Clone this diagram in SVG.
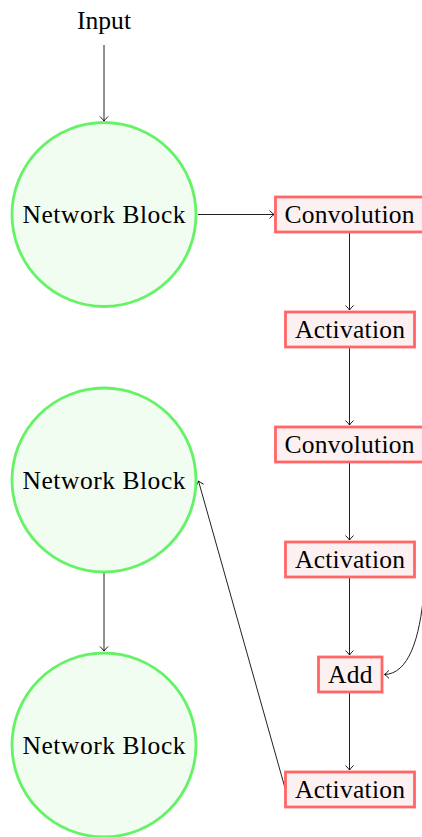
<svg xmlns="http://www.w3.org/2000/svg" width="422" height="837" viewBox="0 0 422 837">
  <defs>
    <marker id="arr" viewBox="-6 -5 8 10" markerWidth="8" markerHeight="10" refX="0" refY="0" orient="auto" markerUnits="userSpaceOnUse">
      <path d="M-4.5,-4 Q-1.5,-1 0,0 Q-1.5,1 -4.5,4" fill="none" stroke="#000" stroke-width="0.9"/>
    </marker>
    <style>
      .block circle { fill: #f2fdf2; stroke: #66f266; stroke-width: 2.8; }
      .op rect { fill: #fdf0f0; stroke: #ff6666; stroke-width: 2.8; }
      text { font-family: "Liberation Serif", "Times New Roman", serif; font-size: 25.5px; fill: #000; text-anchor: middle; }
      .edge { fill: none; stroke: #222; stroke-width: 1; marker-end: url(#arr); }
    </style>
  </defs>

  <rect width="422" height="837" fill="#fff"/>

  <!-- connectors -->
  <g id="connectors">
    <path class="edge" d="M104,45 V121"/>
    <path class="edge" d="M198,214.5 H274"/>
    <path class="edge" d="M349.5,233 V310"/>
    <path class="edge" d="M349.5,348 V425"/>
    <path class="edge" d="M349.5,463 V540"/>
    <path class="edge" d="M349.5,578 V655"/>
    <path class="edge" d="M349.5,693 V770"/>
    <path class="edge" d="M424,590 C420,640 408,674 384.5,674.5"/>
    <path class="edge" d="M285,788 L198.5,481"/>
    <path class="edge" d="M104,573 V651"/>
  </g>

  <!-- input label -->
  <g id="input">
    <text x="104" y="29" textLength="54" lengthAdjust="spacingAndGlyphs">Input</text>
  </g>

  <!-- network blocks -->
  <g id="block1" class="block">
    <circle cx="104" cy="214.5" r="92"/>
    <text x="104" y="223" textLength="163">Network Block</text>
  </g>
  <g id="block2" class="block">
    <circle cx="104" cy="480" r="92"/>
    <text x="104" y="488.5" textLength="163">Network Block</text>
  </g>
  <g id="block3" class="block">
    <circle cx="104" cy="745" r="92"/>
    <text x="104" y="753.5" textLength="163">Network Block</text>
  </g>

  <!-- operations -->
  <g id="conv1" class="op">
    <rect x="275.5" y="197" width="148" height="35"/>
    <text x="349.5" y="223" textLength="130">Convolution</text>
  </g>
  <g id="act1" class="op">
    <rect x="285.5" y="312" width="129" height="35"/>
    <text x="350" y="338" textLength="110">Activation</text>
  </g>
  <g id="conv2" class="op">
    <rect x="275.5" y="427" width="148" height="35"/>
    <text x="349.5" y="453" textLength="130">Convolution</text>
  </g>
  <g id="act2" class="op">
    <rect x="285.5" y="542" width="129" height="35"/>
    <text x="350" y="568" textLength="110">Activation</text>
  </g>
  <g id="add" class="op">
    <rect x="318.5" y="657" width="63.5" height="35"/>
    <text x="350.25" y="683" textLength="44.5">Add</text>
  </g>
  <g id="act3" class="op">
    <rect x="285.5" y="772" width="129" height="35"/>
    <text x="350" y="798" textLength="110">Activation</text>
  </g>
</svg>
